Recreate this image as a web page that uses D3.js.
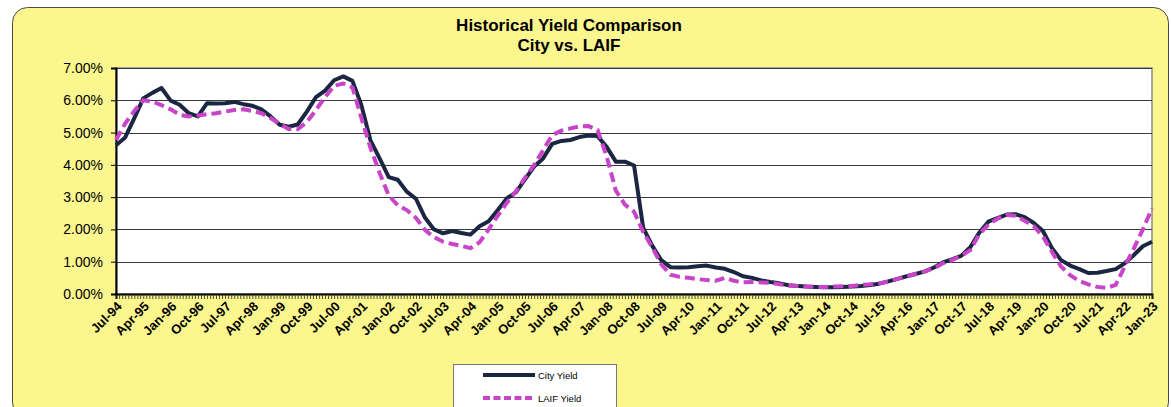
<!DOCTYPE html>
<html>
<head>
<meta charset="utf-8">
<script src="https://cdn.jsdelivr.net/npm/d3@7"></script>
<style>
  html, body { margin: 0; padding: 0; background: #ffffff; }
  svg { display: block; font-family: Arial, "Liberation Sans", sans-serif; }
</style>
</head>
<body>
<svg id="chart" width="1171" height="407"></svg>
<script>
// ---- Data (quarterly readings, Jul-94 .. Jan-23) ----
const startMonth = "1994-07";
const endMonth = "2023-01";

const cityYield = [
  4.61, 4.85, 5.45, 6.06, 6.23, 6.38, 5.99, 5.86, 5.60, 5.50,
  5.91, 5.90, 5.91, 5.95, 5.88, 5.83, 5.72, 5.50, 5.24, 5.18,
  5.25, 5.65, 6.10, 6.30, 6.62, 6.74, 6.60, 5.85, 4.76, 4.20,
  3.62, 3.54, 3.17, 2.95, 2.36, 2.00, 1.88, 1.95, 1.89, 1.84,
  2.10, 2.25, 2.60, 2.96, 3.15, 3.55, 3.95, 4.20, 4.65, 4.74,
  4.77, 4.86, 4.91, 4.89, 4.55, 4.10, 4.10, 3.98, 2.05, 1.50,
  1.05, 0.83, 0.82, 0.83, 0.86, 0.88, 0.82, 0.78, 0.68, 0.55,
  0.50, 0.42, 0.37, 0.33, 0.27, 0.25, 0.23, 0.22, 0.21, 0.21,
  0.22, 0.23, 0.25, 0.28, 0.32, 0.39, 0.47, 0.55, 0.62, 0.70,
  0.82, 0.98, 1.07, 1.18, 1.45, 1.90, 2.24, 2.35, 2.46, 2.47,
  2.38, 2.20, 1.95, 1.42, 1.05, 0.88, 0.77, 0.65, 0.66, 0.71,
  0.77, 0.95, 1.20, 1.48, 1.62
];

const laifYield = [
  4.77, 5.28, 5.67, 6.00, 5.96, 5.85, 5.72, 5.55, 5.50, 5.53,
  5.57, 5.60, 5.65, 5.70, 5.72, 5.67, 5.60, 5.45, 5.27, 5.11,
  5.10, 5.33, 5.70, 6.10, 6.45, 6.52, 6.40, 5.45, 4.53, 3.75,
  3.05, 2.75, 2.60, 2.36, 1.98, 1.76, 1.62, 1.55, 1.49, 1.42,
  1.60, 2.00, 2.43, 2.82, 3.18, 3.60, 4.00, 4.45, 4.92, 5.06,
  5.13, 5.19, 5.20, 5.08, 4.25, 3.20, 2.77, 2.55, 1.92, 1.45,
  0.92, 0.60, 0.53, 0.50, 0.46, 0.43, 0.41, 0.50, 0.41, 0.36,
  0.37, 0.36, 0.35, 0.30, 0.26, 0.25, 0.23, 0.22, 0.22, 0.23,
  0.24, 0.25, 0.28, 0.30, 0.33, 0.39, 0.47, 0.55, 0.62, 0.70,
  0.80, 0.95, 1.05, 1.18, 1.36, 1.85, 2.15, 2.33, 2.45, 2.42,
  2.27, 2.10, 1.78, 1.30, 0.85, 0.58, 0.40, 0.30, 0.22, 0.19,
  0.28, 0.85, 1.40, 2.00, 2.65
];

const tickLabels = [
  "Jul-94","Apr-95","Jan-96","Oct-96","Jul-97","Apr-98","Jan-99","Oct-99",
  "Jul-00","Apr-01","Jan-02","Oct-02","Jul-03","Apr-04","Jan-05","Oct-05",
  "Jul-06","Apr-07","Jan-08","Oct-08","Jul-09","Apr-10","Jan-11","Oct-11",
  "Jul-12","Apr-13","Jan-14","Oct-14","Jul-15","Apr-16","Jan-17","Oct-17",
  "Jul-18","Apr-19","Jan-20","Oct-20","Jul-21","Apr-22","Jan-23"
];

const yTicks = [0, 1, 2, 3, 4, 5, 6, 7];
const seriesNames = ["City Yield", "LAIF Yield"];
const titleLines = ["Historical Yield Comparison", "City vs. LAIF"];

// ---- Build ----
const parseMonth = d3.timeParse("%Y-%m");
const parseLabel = d3.timeParse("%b-%y");
const fmtLabel = d3.timeFormat("%b-%y");
const t0 = parseMonth(startMonth), t1 = parseMonth(endMonth);
const dates = d3.timeMonth.every(3).range(t0, d3.timeMonth.offset(t1, 1));
const cityData = dates.map((d, i) => ({ date: d, v: cityYield[i] }));
const laifData = dates.map((d, i) => ({ date: d, v: laifYield[i] }));
const tickDates = tickLabels.map(parseLabel);

const svg = d3.select("#chart");
const plot = { left: 116, right: 1152, top: 68, bottom: 294 };

const YELLOW = "#FBF68E";
const CITY = "#1B2642";
const LAIF = "#C844C8";

// chart area frame
svg.append("rect")
  .attr("x", 12.5).attr("y", 7.5)
  .attr("width", 1156).attr("height", 410)
  .attr("rx", 15).attr("ry", 15)
  .attr("fill", YELLOW)
  .attr("stroke", "#4a4a4a").attr("stroke-width", 1);

// title
const title = svg.append("g").attr("font-weight", "bold").attr("font-size", 17)
  .attr("text-anchor", "middle").attr("fill", "#000");
titleLines.forEach((t, i) => {
  title.append("text").attr("x", 569).attr("y", 31 + i * 20).text(t);
});

const x = d3.scaleTime().domain([t0, t1]).range([plot.left, plot.right]);
const y = d3.scaleLinear().domain([0, 7]).range([plot.bottom, plot.top]);

// plot background
svg.append("rect")
  .attr("x", plot.left).attr("y", plot.top)
  .attr("width", plot.right - plot.left).attr("height", plot.bottom - plot.top)
  .attr("fill", "#ffffff")
  .attr("stroke", "#8a8a8a").attr("stroke-width", 1.5);

// gridlines
svg.append("g").selectAll("line")
  .data(yTicks.filter(v => v > 0))
  .join("line")
  .attr("x1", plot.left).attr("x2", plot.right)
  .attr("y1", d => Math.round(y(d)) + 0.5).attr("y2", d => Math.round(y(d)) + 0.5)
  .attr("stroke", "#3a3a3a").attr("stroke-width", 1);

// y axis
const yAxis = svg.append("g")
  .attr("transform", `translate(${plot.left},0)`)
  .call(d3.axisLeft(y).tickValues(yTicks).tickSize(5).tickPadding(8)
    .tickFormat(d => d.toFixed(2) + "%"));
yAxis.select(".domain").attr("stroke", "#000").attr("stroke-width", 2);
yAxis.selectAll(".tick line").attr("stroke", "#000");
yAxis.selectAll("text").attr("font-size", 14).attr("fill", "#000")
  .attr("font-family", "Arial, 'Liberation Sans', sans-serif");

// x axis: monthly minor ticks
const xMinor = svg.append("g")
  .attr("transform", `translate(0,${plot.bottom})`)
  .call(d3.axisBottom(x).ticks(d3.timeMonth.every(1)).tickSize(5).tickFormat(""));
xMinor.select(".domain").attr("stroke", "#000").attr("stroke-width", 2);
xMinor.selectAll(".tick line").attr("stroke", "#222").attr("stroke-width", 0.8);

// x axis labels
const xLab = svg.append("g")
  .attr("transform", `translate(0,${plot.bottom})`)
  .call(d3.axisBottom(x).tickValues(tickDates).tickSize(0).tickFormat(fmtLabel));
xLab.select(".domain").remove();
xLab.selectAll("text")
  .attr("font-size", 13).attr("font-weight", "bold").attr("fill", "#000")
  .attr("font-family", "Arial, 'Liberation Sans', sans-serif")
  .attr("text-anchor", "end")
  .attr("transform", "translate(3,10) rotate(-45)")
  .attr("x", 0).attr("y", 0).attr("dy", "0.35em");

// lines
const line = d3.line().x(d => x(d.date)).y(d => y(d.v)).curve(d3.curveLinear);
svg.append("path").datum(cityData)
  .attr("d", line).attr("fill", "none")
  .attr("stroke", CITY).attr("stroke-width", 4)
  .attr("stroke-linejoin", "round");
svg.append("path").datum(laifData)
  .attr("d", line).attr("fill", "none")
  .attr("stroke", LAIF).attr("stroke-width", 4)
  .attr("stroke-dasharray", "10,5");

// legend
const lg = svg.append("g");
lg.append("rect").attr("x", 453.5).attr("y", 364.5)
  .attr("width", 163).attr("height", 60)
  .attr("fill", "#ffffff").attr("stroke", "#777").attr("stroke-width", 1);
const legendItems = [
  { name: seriesNames[0], color: CITY, dash: null, w: 4, yy: 375 },
  { name: seriesNames[1], color: LAIF, dash: "7,3.5", w: 4, yy: 398 }
];
legendItems.forEach(it => {
  lg.append("line").attr("x1", 483).attr("x2", 535)
    .attr("y1", it.yy).attr("y2", it.yy)
    .attr("stroke", it.color).attr("stroke-width", it.w)
    .attr("stroke-dasharray", it.dash);
  lg.append("text").attr("x", 538).attr("y", it.yy + 3.5)
    .attr("font-size", 9.5).attr("fill", "#000").text(it.name);
});
</script>
</body>
</html>
